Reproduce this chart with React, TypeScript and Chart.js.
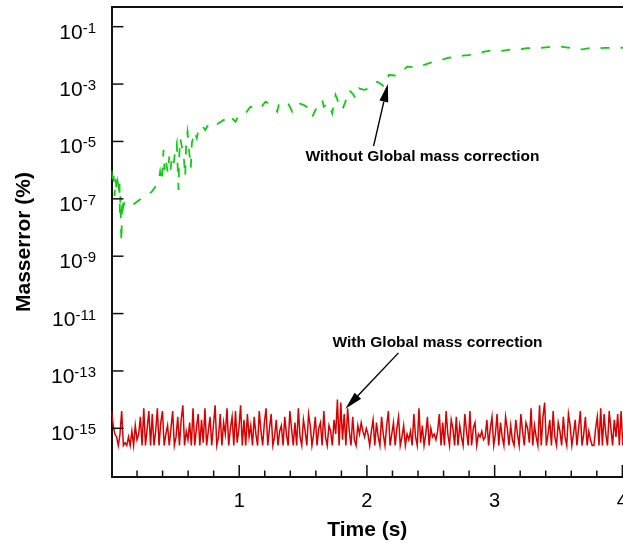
import React, { useEffect, useRef } from 'react';
import { Chart, registerables } from 'chart.js';
Chart.register(...registerables);

// Green series: without global mass correction (log10 of mass error %)
const greenTimes = [
  0.000, 0.008, 0.016, 0.024, 0.032, 0.040, 0.048, 0.056, 0.062, 0.066, 0.070, 0.074, 0.078, 0.082, 0.086, 0.092,
  0.100, 0.120, 0.147, 0.237, 0.316, 0.368, 0.381, 0.394, 0.407, 0.415, 0.425, 0.441, 0.452, 0.462, 0.472, 0.486,
  0.499, 0.511, 0.525, 0.529, 0.538, 0.551, 0.564, 0.577, 0.585, 0.595, 0.611, 0.621, 0.629, 0.650, 0.668, 0.681,
  0.707, 0.734, 0.760, 0.785, 0.810, 0.828, 0.879, 0.893, 0.919, 0.945, 0.971, 0.997, 1.049, 1.088, 1.120, 1.167,
  1.206, 1.240, 1.271, 1.297, 1.310, 1.340, 1.376, 1.415, 1.440, 1.467, 1.506, 1.530, 1.558, 1.572, 1.597, 1.650,
  1.662, 1.702, 1.728, 1.754, 1.780, 1.807, 1.832, 1.859, 1.885, 1.911, 1.937, 1.980, 2.015, 2.050, 2.081, 2.110,
  2.133, 2.172, 2.220, 2.263, 2.316, 2.380, 2.443, 2.500, 2.560, 2.631, 2.700, 2.750, 2.796, 2.860, 2.920, 2.991,
  3.060, 3.120, 3.179, 3.250, 3.300, 3.359, 3.420, 3.480, 3.532, 3.600, 3.650, 3.696, 3.760, 3.820, 3.870, 3.908,
  3.960, 4.010,
];
const greenLog = [
  -6.0, -6.5, -6.2, -6.9, -6.3, -6.7, -6.4, -6.6, -6.3, -7.5, -6.9, -8.0, -8.5, -7.3, -7.0, -7.3,
  -7.15, -7.25, -7.27, -6.98, -6.75, -6.43, -6.05, -6.40, -5.30, -6.00, -5.64, -6.10, -5.53, -5.99, -5.59, -5.82,
  -5.30, -5.06, -6.69, -5.64, -4.89, -5.18, -5.41, -6.23, -5.01, -4.66, -5.47, -5.93, -5.06, -4.66, -4.89, -4.60,
  -4.43, -4.60, -4.40, -4.31, -4.36, -4.39, -4.25, -4.31, -4.14, -4.20, -4.31, -4.08, -4.02, -3.79, -3.86, -3.84,
  -3.61, -3.70, -3.79, -3.96, -3.73, -3.70, -3.61, -3.96, -3.80, -3.67, -3.73, -3.80, -3.96, -4.14, -3.90, -3.55,
  -3.79, -3.67, -4.02, -3.38, -3.67, -3.90, -3.61, -3.21, -3.32, -3.49, -3.15, -3.20, -3.15, -3.00, -2.92, -3.00,
  -3.09, -2.68, -2.70, -2.62, -2.39, -2.42, -2.34, -2.25, -2.20, -2.09, -2.05, -2.01, -1.99, -1.93, -1.87, -1.81,
  -1.84, -1.80, -1.81, -1.75, -1.74, -1.74, -1.71, -1.69, -1.70, -1.75, -1.80, -1.78, -1.73, -1.75, -1.74, -1.74,
  -1.72, -1.74,
];

// Red series: with global mass correction (log10 of mass error %), sampled every redStep seconds
const redStep = 0.0133;
const redLog = [
  -14.4, -14.9, -15.2, -15.3, -15.6, -15.2, -14.4, -15.6, -15.5, -15.6, -15.3, -15.6,
  -15.1, -15.6, -14.9, -15.4, -15.2, -14.6, -15.6, -14.3, -15.6, -15.0, -14.4, -15.6,
  -14.5, -15.6, -15.1, -14.3, -15.6, -14.8, -14.4, -15.6, -15.2, -14.9, -15.6, -15.0,
  -14.4, -15.6, -15.3, -14.6, -15.6, -14.7, -14.2, -15.6, -15.1, -15.4, -14.8, -15.6,
  -14.3, -15.6, -15.0, -14.5, -15.6, -14.7, -15.5, -14.3, -15.6, -15.1, -14.6, -15.6,
  -14.9, -14.2, -15.6, -15.3, -14.5, -15.6, -14.8, -15.2, -14.3, -15.6, -15.0, -14.6,
  -15.6, -14.4, -15.5, -15.0, -14.2, -15.6, -14.7, -15.6, -14.5, -15.3, -14.9, -15.6,
  -14.6, -15.2, -15.6, -14.4, -15.1, -15.6, -14.8, -14.3, -15.6, -15.0, -14.5, -15.6,
  -15.3, -14.7, -15.6, -15.1, -14.9, -15.6, -14.6, -15.2, -15.6, -14.4, -15.0, -15.6,
  -14.8, -15.6, -14.3, -15.3, -15.6, -14.7, -15.1, -15.6, -14.5, -14.9, -15.6, -15.2,
  -14.6, -15.6, -15.0, -14.8, -15.6, -14.4, -15.3, -15.6, -14.9, -15.1, -15.6, -14.7,
  -15.2, -14.0, -15.6, -14.1, -15.4, -14.5, -15.6, -14.3, -15.1, -15.6, -14.6, -15.4,
  -15.6, -14.9, -15.2, -14.8, -15.1, -15.3, -15.0, -15.2, -15.6, -15.1, -14.7, -15.6,
  -14.8, -15.3, -15.6, -14.6, -15.2, -15.6, -14.9, -14.4, -15.6, -15.2, -14.8, -15.6,
  -15.0, -14.6, -15.6, -15.3, -14.9, -15.6, -15.2, -15.4, -15.1, -15.6, -14.5, -15.3,
  -15.6, -14.3, -15.5, -14.9, -15.6, -15.2, -14.6, -15.6, -15.0, -15.3, -15.2, -15.4,
  -15.1, -14.5, -15.6, -14.8, -15.6, -14.4, -15.2, -15.6, -14.7, -15.0, -15.6, -14.6,
  -15.6, -14.9, -15.3, -15.6, -14.5, -15.1, -15.6, -14.4, -15.6, -15.0, -14.8, -15.6,
  -15.2, -15.3, -15.1, -15.4, -15.3, -14.7, -15.6, -15.0, -14.6, -15.6, -15.2, -14.5,
  -15.6, -14.8, -15.3, -15.6, -14.6, -15.0, -15.6, -14.9, -15.4, -15.6, -14.7, -15.2,
  -15.6, -14.5, -15.1, -15.6, -14.8, -15.0, -15.5, -14.3, -15.6, -14.9, -15.3, -15.6,
  -14.2, -15.6, -14.6, -14.1, -15.6, -15.2, -14.7, -15.6, -14.4, -15.3, -15.6, -14.8,
  -15.1, -15.6, -14.6, -15.3, -15.6, -14.5, -14.9, -15.6, -15.2, -14.7, -15.6, -15.0,
  -14.4, -15.6, -15.2, -14.6, -15.6, -15.1, -15.4, -15.6, -15.6, -15.0, -14.6, -15.6,
  -14.3, -15.6, -14.5, -15.2, -15.6, -14.4, -15.0, -15.6, -14.7, -15.3, -14.5, -15.6,
  -14.4, -15.6, -15.0,
];

const yTickExponents = [-15, -13, -11, -9, -7, -5, -3, -1];
const xTickLabels = [1, 2, 3, 4];
const xMinorStep = 0.2;

const annotations = [
  { text: 'Without Global mass correction', tx: 2.435, ty: -5.54, ax0: 2.052, ay0: -5.16, ax1: 2.164, ay1: -3.0 },
  { text: 'With Global mass correction', tx: 2.553, ty: -12.02, ax0: 2.247, ay0: -12.37, ax1: 1.832, ay1: -14.32 },
];

const FONT = '"Liberation Sans", Arial, Helvetica, sans-serif';

const decorPlugin = {
  id: 'decor',
  afterDraw(chart: any) {
    const { ctx, chartArea } = chart;
    const xs = chart.scales.x;
    const ys = chart.scales.y;
    ctx.save();
    ctx.strokeStyle = '#111';
    ctx.fillStyle = '#000';
    // top border
    ctx.lineWidth = 2;
    ctx.beginPath();
    ctx.moveTo(chartArea.left, chartArea.top);
    ctx.lineTo(chartArea.right, chartArea.top);
    ctx.stroke();
    // y ticks + labels
    ctx.lineWidth = 1.5;
    for (const e of yTickExponents) {
      const y = ys.getPixelForValue(Math.pow(10, e));
      ctx.beginPath();
      ctx.moveTo(chartArea.left, y);
      ctx.lineTo(chartArea.left + 12, y);
      ctx.stroke();
      const base = '10';
      const exp = String(e);
      ctx.font = `21px ${FONT}`;
      const wb = ctx.measureText(base).width;
      ctx.font = `15px ${FONT}`;
      const we = ctx.measureText(exp).width;
      const right = 96;
      ctx.textAlign = 'left';
      ctx.textBaseline = 'alphabetic';
      ctx.font = `21px ${FONT}`;
      ctx.fillText(base, right - we - wb, y + 12);
      ctx.font = `15px ${FONT}`;
      ctx.fillText(exp, right - we, y + 6);
    }
    // x ticks (major inward 12px, minor 6px)
    const xmax = xs.max;
    for (let i = 1; i * xMinorStep <= xmax + 1e-9; i++) {
      const v = i * xMinorStep;
      const major = Math.abs(v - Math.round(v)) < 1e-6;
      const x = xs.getPixelForValue(v);
      ctx.beginPath();
      ctx.moveTo(x, chartArea.bottom);
      ctx.lineTo(x, chartArea.bottom - (major ? 12 : 6.5));
      ctx.stroke();
    }
    ctx.font = `20px ${FONT}`;
    ctx.textAlign = 'center';
    ctx.textBaseline = 'middle';
    for (const v of xTickLabels) {
      ctx.fillText(String(v), xs.getPixelForValue(v), chartArea.bottom + 24.5);
    }
    // annotations
    for (const a of annotations) {
      ctx.font = `bold 15.5px ${FONT}`;
      ctx.textAlign = 'center';
      ctx.textBaseline = 'middle';
      ctx.fillText(a.text, xs.getPixelForValue(a.tx), ys.getPixelForValue(Math.pow(10, a.ty)));
      const x0 = xs.getPixelForValue(a.ax0);
      const y0 = ys.getPixelForValue(Math.pow(10, a.ay0));
      const x1 = xs.getPixelForValue(a.ax1);
      const y1 = ys.getPixelForValue(Math.pow(10, a.ay1));
      const ang = Math.atan2(y1 - y0, x1 - x0);
      const hl = 18;
      const hw = 4.5;
      const bx = x1 - hl * Math.cos(ang);
      const by = y1 - hl * Math.sin(ang);
      ctx.lineWidth = 1.4;
      ctx.strokeStyle = '#000';
      ctx.beginPath();
      ctx.moveTo(x0, y0);
      ctx.lineTo(bx, by);
      ctx.stroke();
      ctx.beginPath();
      ctx.moveTo(x1, y1);
      ctx.lineTo(bx + hw * Math.sin(ang), by - hw * Math.cos(ang));
      ctx.lineTo(bx - hw * Math.sin(ang), by + hw * Math.cos(ang));
      ctx.closePath();
      ctx.fill();
    }
    ctx.restore();
  },
};

export default function App() {
  const ref = useRef<HTMLCanvasElement | null>(null);
  useEffect(() => {
    if (!ref.current) return;
    const greenData = greenTimes.map((t, i) => ({ x: t, y: Math.pow(10, greenLog[i]) }));
    const redData = redLog.map((v, i) => ({ x: i * redStep, y: Math.pow(10, v) }));
    const chart = new Chart(ref.current, {
      type: 'line',
      data: {
        datasets: [
          {
            label: 'Without Global mass correction',
            data: greenData,
            borderColor: '#10cc10',
            borderWidth: 1.8,
            borderDash: [9, 11],
            pointRadius: 0,
            fill: false,
            tension: 0,
          },
          {
            label: 'With Global mass correction',
            data: redData,
            borderColor: '#d80000',
            borderWidth: 1.5,
            pointRadius: 0,
            fill: false,
            tension: 0,
          },
        ],
      },
      options: {
        animation: false,
        responsive: false,
        maintainAspectRatio: false,
        layout: { padding: { left: 0, right: 0, top: 7, bottom: 0 }, autoPadding: false },
        plugins: { legend: { display: false }, tooltip: { enabled: false } },
        scales: {
          x: {
            type: 'linear',
            min: 0,
            max: 4.005,
            grid: { display: false, drawTicks: false },
            border: { display: true, color: '#111', width: 2 },
            ticks: { display: false },
            title: {
              display: true,
              text: 'Time (s)',
              color: '#000',
              font: { family: FONT, size: 21, weight: 'bold' },
              padding: { top: 0, bottom: 4 },
            },
            afterFit: (s: any) => { s.height = 70; },
          },
          y: {
            type: 'logarithmic',
            min: 2.01e-17,
            max: 0.486,
            grid: { display: false, drawTicks: false },
            border: { display: true, color: '#111', width: 2 },
            ticks: { display: false },
            title: {
              display: true,
              text: 'Masserror (%)',
              color: '#000',
              font: { family: FONT, size: 21, weight: 'bold' },
              padding: { top: 12, bottom: 0 },
            },
            afterFit: (s: any) => { s.width = 111.5; },
          },
        },
      },
      plugins: [decorPlugin],
    } as any);
    return () => chart.destroy();
  }, []);
  return (
    <div style={{ position: 'fixed', left: 0, top: 0, width: 623, height: 547, background: '#fff', overflow: 'hidden' }}>
      <canvas ref={ref} width={623} height={547} style={{ width: 623, height: 547, display: 'block' }} />
    </div>
  );
}
